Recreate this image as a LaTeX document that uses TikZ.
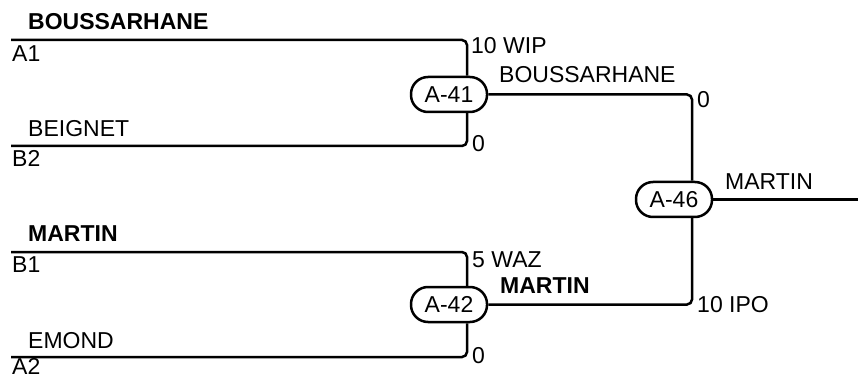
\documentclass[tikz,border=0pt]{standalone}
\usepackage{fontspec}
\setmainfont{Liberation Sans}
\begin{document}
\begin{tikzpicture}[x=1pt,y=-1pt,
  wire/.style={line width=2.5pt,rounded corners=5pt},
  game/.style={draw,line width=2.5pt,rounded corners=17pt,minimum width=76pt,minimum height=35pt,inner sep=0pt,fill=white,font=\fontsize{23}{23}\selectfont},
  lbl/.style={anchor=base west,inner sep=0pt,font=\fontsize{23}{23}\selectfont},
  blbl/.style={lbl,font=\fontsize{23}{23}\selectfont\bfseries}]
\useasboundingbox (0,0) rectangle (858,379);
% match nodes
\node[game] (n41) at (449,94.5) {A-41};
\node[game] (n42) at (449,304.5) {A-42};
\node[game] (n46) at (674,199.5) {A-46};
% start points
\coordinate (a1) at (11,40);
\coordinate (b2) at (11,146);
\coordinate (b1) at (11,252);
\coordinate (a2) at (11,357);
\coordinate (fin) at (858,199.5);
% wires
\draw[wire] (a1) -| ([xshift=18pt]n41.north);
\draw[wire] (b2) -| ([xshift=18pt]n41.south);
\draw[wire] (b1) -| ([xshift=18pt]n42.north);
\draw[wire] (a2) -| ([xshift=18pt]n42.south);
\draw[wire] (n41.east) -| ([xshift=18pt]n46.north);
\draw[wire] (n42.east) -| ([xshift=18pt]n46.south);
\draw[wire] (n46.east) -- (fin);
% labels
\node[blbl] (t1) at (28,30) {BOUSSARHANE};
\node[lbl] (t2) at (12,62) {A1};
\node[lbl] (t3) at (28,137) {BEIGNET};
\node[lbl] (t4) at (12,167) {B2};
\node[lbl] (t5) at (471,54) {10 WIP};
\node[lbl] (t6) at (472,152) {0};
\node[lbl] (t7) at (499,83) {BOUSSARHANE};
\node[lbl] (t8) at (697,108) {0};
\node[lbl] (t9) at (725,190) {MARTIN};
\node[blbl] (t10) at (28,241) {MARTIN};
\node[lbl] (t11) at (12,272) {B1};
\node[lbl] (t12) at (472,267) {5 WAZ};
\node[blbl] (t13) at (500,293) {MARTIN};
\node[lbl] (t14) at (697,312) {10 IPO};
\node[lbl] (t15) at (28,348) {EMOND};
\node[lbl] (t16) at (12,374) {A2};
\node[lbl] (t17) at (472,363) {0};
\end{tikzpicture}
\end{document}
